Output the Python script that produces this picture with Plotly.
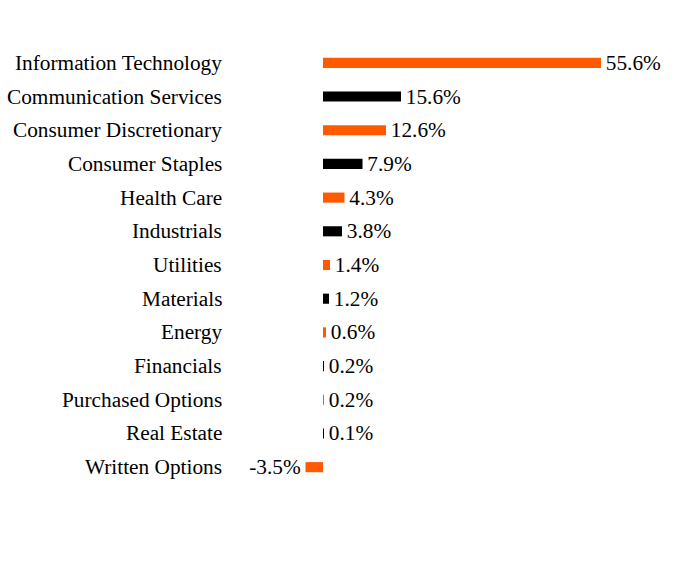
import plotly.graph_objects as go

categories = ["Information Technology", "Communication Services", "Consumer Discretionary",
              "Consumer Staples", "Health Care", "Industrials", "Utilities", "Materials",
              "Energy", "Financials", "Purchased Options", "Real Estate", "Written Options"]
values = [55.6, 15.6, 12.6, 7.9, 4.3, 3.8, 1.4, 1.2, 0.6, 0.2, 0.2, 0.1, -3.5]
labels = ["55.6%", "15.6%", "12.6%", "7.9%", "4.3%", "3.8%", "1.4%", "1.2%",
          "0.6%", "0.2%", "0.2%", "0.1%", "-3.5%"]

colors = ["#FF5A00" if i % 2 == 0 else "#000000" for i in range(len(categories))]
hs = "\u200a"
texts = [(hs + t) if v >= 0 else (t + hs) for t, v in zip(labels, values)]

XMIN, XMAX = -18.6, 71.4

fig = go.Figure(go.Bar(
    x=values, y=categories, orientation="h",
    marker=dict(color=colors, line=dict(width=0)),
    width=0.3,
    text=texts, textposition="outside", constraintext="none",
    cliponaxis=False,
    textfont=dict(family="Liberation Serif", size=21.3, color="#000000"),
))

for c in categories:
    fig.add_annotation(x=XMIN, y=c, xref="x", yref="y", text=c, showarrow=False,
                       xanchor="right", yanchor="middle", xshift=-6,
                       font=dict(family="Liberation Serif", size=21.3, color="#000000"))

fig.update_layout(
    width=696, height=564,
    margin=dict(l=230, r=16, t=46, b=80, autoexpand=False),
    paper_bgcolor="white", plot_bgcolor="white",
    showlegend=False,
    font=dict(family="Liberation Serif", size=21.3, color="#000000"),
    xaxis=dict(range=[XMIN, XMAX], visible=False, showgrid=False, zeroline=False),
    yaxis=dict(autorange="reversed", showgrid=False, zeroline=False, showline=False,
               ticks="", showticklabels=False),
    bargap=0.7,
)

fig.write_html("out.html")
